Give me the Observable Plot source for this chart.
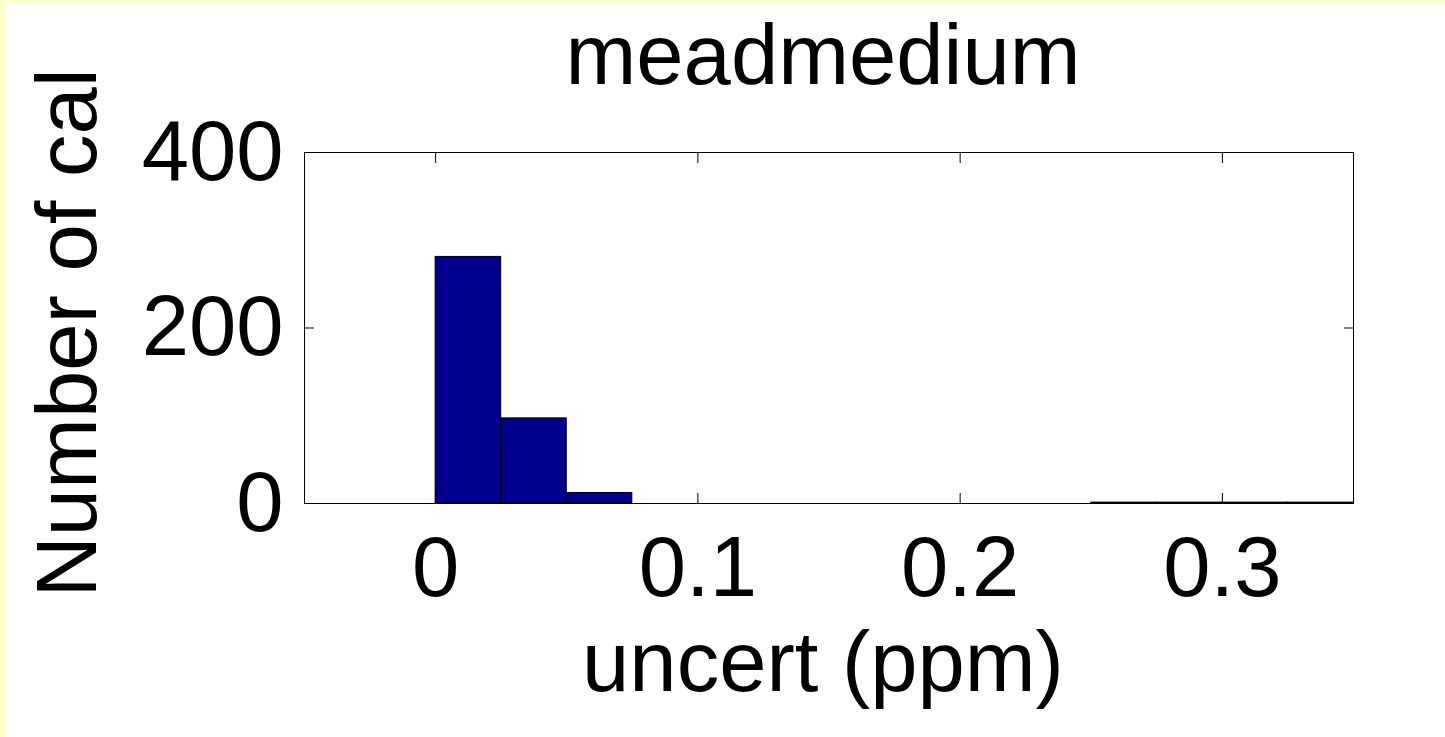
<!DOCTYPE html>
<html>
<head>
<meta charset="utf-8">
<script src="https://cdn.jsdelivr.net/npm/d3@7"></script>
<script src="https://cdn.jsdelivr.net/npm/@observablehq/plot@0.6"></script>
<style>
  html, body { margin: 0; padding: 0; background: #FFFFCC; }
  #wrap { width: 1445px; height: 737px; box-sizing: border-box; padding: 4px 0 0 6px; background: #FFFFCC; overflow: hidden; }
  #wrap svg { display: block; background: #FFFFFF; }
</style>
</head>
<body>
<div id="wrap"></div>
<script>
// Histogram data
const binEdges = [0, 0.025, 0.05, 0.075, 0.1, 0.125, 0.15, 0.175, 0.2, 0.225, 0.25, 0.275, 0.3, 0.325, 0.35];
const counts   = [281, 97, 12, 0, 0, 0, 0, 0, 0, 0, 1, 1, 1, 1];
const xTicks = [0, 0.1, 0.2, 0.3];
const yTicks = [0, 200, 400];
const titleText = "meadmedium";
const xLabel = "uncert (ppm)";
const yLabel = "Number of cal";

const bins = counts.map((c, i) => ({x1: binEdges[i], x2: binEdges[i + 1], count: c}));
const fmt = d => String(d);

const chart = Plot.plot({
  width: 1439,
  height: 733,
  marginLeft: 298,
  marginRight: 92,
  marginTop: 148,
  marginBottom: 234,
  style: {background: "#FFFFFF", color: "#000000", fontFamily: "'Liberation Sans', Arial, Helvetica, sans-serif", fontSize: "85px"},
  x: {domain: [-0.05, 0.35], ticks: xTicks},
  y: {domain: [0, 400], ticks: yTicks},
  marks: [
    Plot.rectY(bins, {x1: "x1", x2: "x2", y: "count", fill: "#00008F", stroke: "#000000", strokeWidth: 1, clip: true}),
    Plot.frame({stroke: "#000000", strokeWidth: 1}),
    Plot.axisX(xTicks, {anchor: "bottom", tickSize: -10, tickPadding: 42, tickFormat: fmt, label: null, fontSize: 85}),
    Plot.axisX(xTicks, {anchor: "top", tickSize: -10, tickFormat: () => "", label: null}),
    Plot.axisY(yTicks, {anchor: "left", tickSize: -10, tickPadding: 31, tickFormat: fmt, label: null, fontSize: 85}),
    Plot.axisY(yTicks, {anchor: "right", tickSize: -10, tickFormat: () => "", label: null}),
    Plot.text([titleText], {frameAnchor: "top", lineAnchor: "bottom", dy: -69, dx: -6, fontSize: 85}),
    Plot.text([xLabel], {frameAnchor: "bottom", lineAnchor: "bottom", dy: 187, dx: -6, fontSize: 85}),
    Plot.text([yLabel], {frameAnchor: "left", textAnchor: "middle", lineAnchor: "bottom", rotate: -90, dx: -209, dy: 5, fontSize: 85})
  ]
});
document.getElementById("wrap").appendChild(chart);
</script>
</body>
</html>
